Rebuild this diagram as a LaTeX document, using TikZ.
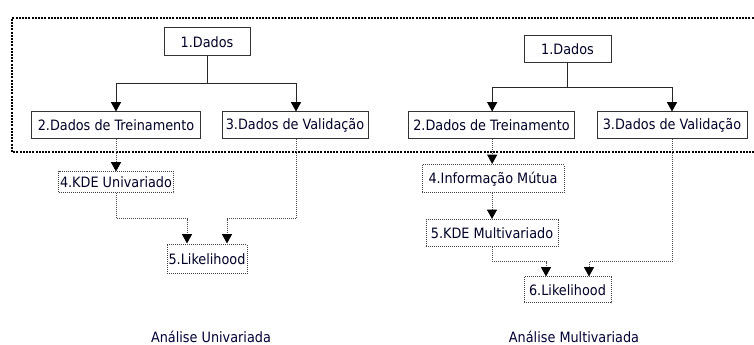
\documentclass[tikz,border=0pt]{standalone}
\usepackage{fontspec}
\setmainfont{DejaVu Sans Condensed}
\usetikzlibrary{arrows.meta}
\begin{document}
\begin{tikzpicture}[x=0.75pt,y=-0.75pt,
  font=\fontsize{10.7}{12}\selectfont,
  solidbox/.style={draw=black!80, line width=0.75pt, inner sep=1pt, text=black!85!blue},
  dotbox/.style={draw=black!75, line width=0.75pt, dash pattern=on 0.75pt off 0.75pt, inner sep=0.5pt, text=black!85!blue},
  solidln/.style={draw=black!85, line width=0.75pt},
  dotln/.style={draw=black!70, line width=0.75pt, dash pattern=on 0.75pt off 0.75pt},
  arr/.style={-{Triangle[width=7.5pt,length=7pt,black]}},
  frame/.style={draw=black, line width=2pt, dash pattern=on 1.5pt off 0.9pt},
  caption/.style={text=black!80!blue}
]
\useasboundingbox (0,0) rectangle (754,345);

% big dotted frame (right side beyond picture)
\coordinate (fa) at (760,18);
\coordinate (fb) at (12,18);
\coordinate (fc) at (12,152);
\coordinate (fd) at (760,152);
\draw[frame] (fa) -- (fb) -- (fc) -- (fd);

% ---------- left: univariate ----------
\node[solidbox, minimum width=64.5pt, minimum height=21pt] (d1) at (207,42) {1.Dados};
\node[solidbox, minimum width=126.75pt, minimum height=20.25pt] (t1) at (116,125.5) {2.Dados de Treinamento};
\node[solidbox, minimum width=109.5pt, minimum height=20.25pt] (v1) at (295,125.5) {3.Dados de Valida\c{c}\~ao};
\node[dotbox, minimum width=86.25pt, minimum height=15.75pt] (k1) at (116,182.5) {4.KDE Univariado};
\node[dotbox, minimum width=60pt, minimum height=22pt] (l1) at (207,259) {5.Likelihood};

\coordinate (j1) at (207,84);
\draw[solidln] (d1.south) -- (j1);
\draw[solidln, arr] (j1) -| (t1.north);
\draw[solidln, arr] (j1) -| ([xshift=0.75pt]v1.north);
\draw[dotln, arr] (t1.south) -- (k1.north);
\coordinate (a1) at (187,244);
\coordinate (b1) at (227,244);
\coordinate (ka) at (116,219);
\coordinate (va) at (296,219);
\draw[dotln, arr] (k1.south) -- (ka) -| ([yshift=0.4pt]a1);
\draw[dotln, arr] ([xshift=0.75pt]v1.south) -- (va) -| ([yshift=0.4pt]b1);

\node[caption] (c1) at (211,337) {An\'alise Univariada};

% ---------- right: multivariate ----------
\node[solidbox, minimum width=65.25pt, minimum height=20.25pt] (d2) at (567.5,49.5) {1.Dados};
\node[solidbox, minimum width=124.5pt, minimum height=20.25pt] (t2) at (491.5,125.5) {2.Dados de Treinamento};
\node[solidbox, minimum width=112.5pt, minimum height=20.25pt] (v2) at (672,125.5) {3.Dados de Valida\c{c}\~ao};
\node[dotbox, minimum width=106.5pt, minimum height=21pt] (m2) at (493,179) {4.Informa\c{c}\~ao M\'utua};
\node[dotbox, minimum width=99pt, minimum height=20.25pt] (k2) at (492,233.5) {5.KDE Multivariado};
\node[dotbox, minimum width=65.25pt, minimum height=19.5pt] (l2) at (567.5,290) {6.Likelihood};

\coordinate (j2) at (567.5,88);
\draw[solidln] (d2.south) -- (j2);
\draw[solidln, arr] (j2) -| ([xshift=0.5pt]t2.north);
\draw[solidln, arr] (j2) -| (v2.north);
\draw[dotln, arr] ([xshift=0.5pt]t2.south) -- ([xshift=0.5pt,yshift=0.4pt]t2.south |- m2.north);
\draw[dotln, arr] (m2.south -| k2.north) -- ([yshift=0.4pt]k2.north);
\coordinate (a2) at (546,277);
\coordinate (b2) at (589,277);
\coordinate (kb) at (492,262);
\coordinate (vb) at (672,262);
\draw[dotln, arr] (k2.south) -- (kb) -| ([yshift=0.4pt]a2);
\draw[dotln, arr] (v2.south) -- (vb) -| ([yshift=0.4pt]b2);

\node[caption] (c2) at (574,337) {An\'alise Multivariada};
\end{tikzpicture}
\end{document}
